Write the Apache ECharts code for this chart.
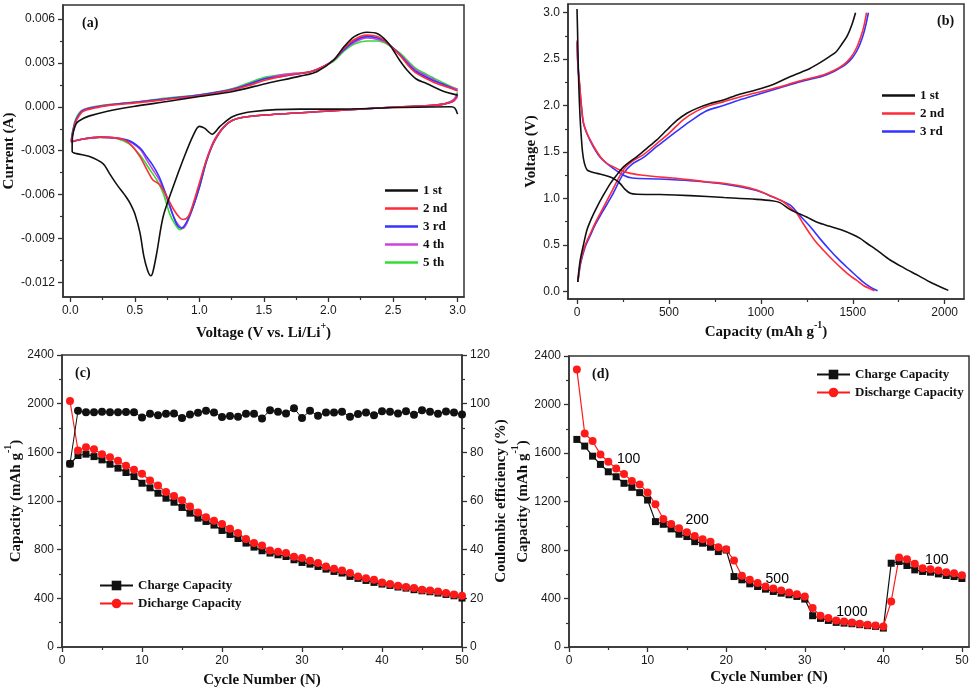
<!DOCTYPE html>
<html><head><meta charset="utf-8">
<script src="https://cdn.jsdelivr.net/npm/echarts@6/dist/echarts.min.js"></script>
<style>html,body{margin:0;padding:0;background:#fff}#c{width:974px;height:693px}</style>
</head><body><div id="c"></div>
<script>
// ---------- Panel (a): cyclic voltammetry, [voltage V, current A] ----------
const cvNames = ['1 st','2 nd','3 rd','4 th','5 th'];
const cv1 = [[3.00,-0.0005],[2.98,-0.0001],[2.95,0.0000],[2.55,-0.00005],[2.04,-0.00016],[1.78,-0.00016],[1.42,-0.00032],[1.26,-0.00066],[1.16,-0.00134],[1.10,-0.00187],[1.04,-0.00146],[1.00,-0.00134],[0.95,-0.0020],[0.875,-0.0036],[0.80,-0.0054],[0.72,-0.0075],[0.67,-0.0100],[0.64,-0.0113],[0.625,-0.01155],[0.60,-0.0112],[0.57,-0.0102],[0.54,-0.0086],[0.50,-0.0073],[0.47,-0.0067],[0.436,-0.0062],[0.36,-0.0053],[0.30,-0.0045],[0.256,-0.0039],[0.15,-0.0034],[0.05,-0.0032],[0.015,-0.00305],
  [0.015,-0.0024],[0.025,-0.0017],[0.05,-0.0011],[0.10,-0.0008],[0.15,-0.00062],[0.28,-0.00032],[0.49,0.00002],[0.75,0.00036],[1.0,0.0007],[1.26,0.00105],[1.52,0.0016],[1.78,0.0021],[1.91,0.0024],[2.04,0.0032],[2.12,0.0041],[2.20,0.0048],[2.30,0.0051],[2.38,0.0050],[2.45,0.0045],[2.50,0.0039],[2.55,0.0032],[2.61,0.0025],[2.68,0.0019],[2.76,0.0016],[2.88,0.0011],[3.0,0.0008]];
const cv2 = [[3.0,0.0007],[2.97,0.0004],[2.90,0.0002],[2.81,0.0001],[2.55,0.0000],[2.04,-0.00027],[1.52,-0.00055],[1.31,-0.00077],[1.21,-0.0012],[1.12,-0.00226],[1.056,-0.0036],[1.004,-0.0051],[0.953,-0.0066],[0.914,-0.0075],[0.875,-0.0077],[0.85,-0.0076],[0.80,-0.0070],[0.746,-0.0061],[0.69,-0.0053],[0.64,-0.0050],[0.60,-0.0044],[0.54,-0.0034],[0.47,-0.0026],[0.40,-0.0022],[0.23,-0.00207],[0.10,-0.0022],[0.01,-0.00237],
  [0.01,-0.0023],[0.02,-0.0018],[0.04,-0.0011],[0.07,-0.0006],[0.10,-0.0003],[0.18,-0.0001],[0.30,0.0001],[0.49,0.00025],[0.75,0.0005],[1.0,0.00075],[1.26,0.00115],[1.40,0.0015],[1.50,0.0018],[1.65,0.0021],[1.86,0.0024],[1.95,0.0027],[2.04,0.0032],[2.12,0.0040],[2.20,0.0046],[2.30,0.0049],[2.38,0.0048],[2.45,0.0044],[2.55,0.00355],[2.62,0.0028],[2.68,0.0023],[2.81,0.0017],[2.90,0.0014],[3.0,0.0011]];
const cv3 = [[3.0,0.0008],[2.97,0.0004],[2.90,0.0002],[2.81,0.0001],[2.55,0.0000],[2.04,-0.00027],[1.52,-0.00055],[1.31,-0.00077],[1.21,-0.0012],[1.12,-0.0023],[1.056,-0.0037],[1.004,-0.0054],[0.953,-0.0068],[0.90,-0.0079],[0.86,-0.0083],[0.83,-0.0081],[0.80,-0.0075],[0.746,-0.0061],[0.69,-0.0048],[0.64,-0.0040],[0.59,-0.0034],[0.54,-0.0028],[0.436,-0.00226],[0.23,-0.00207],[0.10,-0.0022],[0.01,-0.0024],
  [0.01,-0.0023],[0.02,-0.0017],[0.04,-0.0010],[0.07,-0.0005],[0.10,-0.00025],[0.18,-0.00005],[0.30,0.00012],[0.49,0.0003],[0.75,0.00055],[1.0,0.0008],[1.26,0.0012],[1.40,0.0016],[1.50,0.0019],[1.65,0.0021],[1.86,0.0024],[1.95,0.0027],[2.04,0.0032],[2.12,0.0039],[2.20,0.0045],[2.30,0.0048],[2.38,0.0047],[2.45,0.0044],[2.55,0.0036],[2.62,0.0029],[2.68,0.0024],[2.81,0.0018],[2.90,0.0015],[3.0,0.0011]];
const cv4 = [[3.0,0.0009],[2.97,0.0005],[2.90,0.0002],[2.81,0.0001],[2.55,0.0000],[2.04,-0.00027],[1.52,-0.00055],[1.31,-0.00077],[1.21,-0.0012],[1.12,-0.0022],[1.06,-0.0035],[1.01,-0.0051],[0.96,-0.0066],[0.91,-0.0078],[0.875,-0.0083],[0.84,-0.0081],[0.80,-0.0075],[0.746,-0.0062],[0.69,-0.0050],[0.64,-0.0043],[0.59,-0.0036],[0.54,-0.0029],[0.436,-0.0023],[0.23,-0.00207],[0.10,-0.0022],[0.01,-0.0024],
  [0.01,-0.0023],[0.02,-0.0017],[0.04,-0.0010],[0.07,-0.0005],[0.10,-0.00022],[0.18,-0.00003],[0.30,0.00013],[0.49,0.0003],[0.75,0.00055],[1.0,0.0008],[1.26,0.00122],[1.40,0.0016],[1.50,0.0019],[1.65,0.0022],[1.86,0.0024],[1.95,0.0027],[2.04,0.0032],[2.12,0.0039],[2.20,0.0044],[2.30,0.0047],[2.38,0.0046],[2.45,0.0044],[2.55,0.0036],[2.62,0.0030],[2.68,0.0025],[2.81,0.0019],[2.90,0.0015],[3.0,0.0012]];
const cv5 = [[3.0,0.0010],[2.97,0.0005],[2.90,0.0002],[2.81,0.0001],[2.55,0.0000],[2.04,-0.00027],[1.52,-0.00055],[1.31,-0.00077],[1.21,-0.0012],[1.12,-0.0023],[1.056,-0.0037],[1.004,-0.0054],[0.953,-0.0068],[0.90,-0.0080],[0.85,-0.0084],[0.81,-0.0080],[0.77,-0.0073],[0.72,-0.0059],[0.67,-0.0050],[0.617,-0.0043],[0.54,-0.0033],[0.45,-0.0025],[0.30,-0.0021],[0.10,-0.0022],[0.01,-0.0024],
  [0.01,-0.0023],[0.02,-0.0016],[0.04,-0.0009],[0.07,-0.0004],[0.10,-0.0002],[0.18,0.0000],[0.30,0.00015],[0.49,0.00032],[0.75,0.0006],[1.0,0.00082],[1.26,0.00125],[1.40,0.0017],[1.50,0.0020],[1.65,0.0022],[1.86,0.0024],[1.95,0.0027],[2.04,0.0031],[2.12,0.0038],[2.20,0.0043],[2.30,0.0045],[2.38,0.0045],[2.45,0.0043],[2.55,0.0037],[2.62,0.0031],[2.68,0.0026],[2.81,0.0020],[2.90,0.0016],[3.0,0.0012]];

// ---------- Panel (b): charge/discharge profiles, [capacity mAh/g, voltage V] ----------
const gcNames = ['1 st','2 nd','3 rd'];
const dis1 = [[0,3.04],[3,2.8],[6,2.5],[10,2.2],[16,1.9],[22,1.7],[30,1.5],[40,1.38],[54,1.31],[80,1.285],[109,1.27],[150,1.25],[181,1.23],[210,1.20],[235,1.16],[260,1.10],[290,1.055],[326,1.045],[450,1.042],[615,1.03],[800,1.01],[977,0.99],[1060,0.975],[1104,0.955],[1160,0.88],[1249,0.80],[1310,0.74],[1375,0.70],[1440,0.66],[1502,0.61],[1540,0.57],[1575,0.52],[1640,0.43],[1701,0.34],[1780,0.25],[1846,0.18],[1930,0.09],[2020,0.01]];
const chg1 = [[4,0.10],[10,0.22],[18,0.34],[35,0.5],[54,0.66],[80,0.79],[109,0.91],[145,1.04],[181,1.16],[215,1.25],[253,1.34],[290,1.40],[326,1.45],[380,1.54],[434,1.63],[490,1.74],[543,1.84],[600,1.92],[652,1.97],[720,2.02],[796,2.06],[880,2.12],[977,2.17],[1070,2.23],[1158,2.31],[1220,2.36],[1267,2.40],[1320,2.46],[1375,2.53],[1410,2.58],[1440,2.66],[1470,2.75],[1495,2.87],[1515,3.0]];
const dis2 = [[0,2.7],[5,2.45],[14,2.24],[24,2.0],[36,1.81],[55,1.70],[72,1.63],[100,1.53],[127,1.45],[160,1.38],[199,1.34],[240,1.30],[290,1.27],[360,1.25],[434,1.234],[520,1.22],[615,1.20],[700,1.18],[796,1.163],[900,1.13],[977,1.09],[1050,1.03],[1122,0.965],[1160,0.90],[1195,0.84],[1230,0.73],[1267,0.62],[1300,0.53],[1339,0.445],[1390,0.34],[1448,0.23],[1490,0.16],[1520,0.12],[1560,0.06],[1602,0.02],[1618,0.005]];
const chg2 = [[5,0.1],[12,0.22],[22,0.34],[45,0.5],[72,0.62],[100,0.74],[140,0.89],[190,1.08],[253,1.31],[300,1.40],[360,1.47],[434,1.59],[500,1.70],[579,1.85],[650,1.94],[720,2.0],[796,2.04],[900,2.10],[1000,2.15],[1100,2.20],[1200,2.26],[1280,2.30],[1339,2.33],[1400,2.38],[1450,2.44],[1490,2.52],[1520,2.62],[1545,2.75],[1560,2.85],[1575,3.0]];
const dis3 = [[0,2.68],[5,2.42],[14,2.22],[24,1.99],[36,1.80],[72,1.62],[127,1.44],[199,1.32],[253,1.25],[300,1.22],[434,1.21],[615,1.19],[796,1.155],[977,1.085],[1060,1.02],[1158,0.93],[1210,0.82],[1267,0.70],[1320,0.57],[1375,0.445],[1430,0.33],[1484,0.23],[1520,0.165],[1557,0.10],[1600,0.04],[1635,0.005]];
const chg3 = [[5,0.1],[12,0.21],[22,0.32],[45,0.48],[72,0.60],[100,0.72],[140,0.86],[190,1.03],[253,1.27],[300,1.37],[360,1.44],[434,1.56],[500,1.66],[560,1.75],[615,1.83],[700,1.94],[796,2.0],[900,2.07],[1000,2.13],[1100,2.19],[1200,2.25],[1280,2.29],[1339,2.32],[1400,2.37],[1460,2.44],[1500,2.52],[1530,2.62],[1555,2.75],[1570,2.86],[1585,3.0]];

// ---------- Panel (c): cycling at 100 mA/g ----------
const cycles = [1,2,3,4,5,6,7,8,9,10,11,12,13,14,15,16,17,18,19,20,21,22,23,24,25,26,27,28,29,30,31,32,33,34,35,36,37,38,39,40,41,42,43,44,45,46,47,48,49,50];
const cCharge = [1505,1574,1585,1565,1538,1502,1470,1434,1401,1346,1308,1264,1223,1190,1147,1100,1059,1032,1002,958,925,892,854,821,791,772,758,744,717,695,681,662,640,621,608,580,564,547,531,517,506,493,484,471,462,454,443,432,421,402];
const cDischarge = [2022,1615,1642,1625,1585,1560,1530,1489,1456,1423,1368,1327,1273,1242,1207,1155,1106,1067,1037,1010,971,936,887,854,835,794,783,772,742,731,709,690,662,643,629,608,580,566,553,531,517,504,493,484,471,465,457,443,432,421];
const cEfficiency = [75.3,97.1,96.5,96.5,96.7,96.5,96.5,96.6,96.5,94.3,95.9,95.2,95.9,96.0,94.1,95.5,96.3,97.1,96.4,94.5,94.9,94.6,95.9,95.9,93.9,97.3,96.7,96.0,98.1,94.1,97.1,95.0,96.4,96.4,96.7,94.6,95.8,96.4,95.2,96.9,96.7,96.0,96.9,95.4,97.3,96.7,95.9,96.8,96.4,95.5];

// ---------- Panel (d): rate performance ----------
const dCharge = [1712,1657,1574,1506,1445,1404,1350,1317,1273,1212,1034,1012,974,930,911,869,856,823,787,800,581,554,521,499,477,458,444,431,417,395,258,236,219,203,197,192,184,176,170,156,691,705,672,636,623,617,603,590,581,565];
const dDischarge = [2288,1761,1698,1588,1528,1473,1426,1369,1341,1275,1177,1056,1015,979,946,916,889,869,823,806,713,587,554,527,499,483,466,450,436,417,321,258,239,219,211,203,192,184,178,170,376,738,724,686,650,642,631,617,609,592];
const rateText = ['100','200','500','1000','100'];
const rateCycle = [7.6,16.3,26.5,36,46.8];
const rateCap = [1550,1048,562,285,713];

// ---------- Tick values ----------
const aXTicks=[0,0.5,1,1.5,2,2.5,3], aXMinor=[0.25,0.75,1.25,1.75,2.25,2.75];
const aYTicks=[-0.012,-0.009,-0.006,-0.003,0,0.003,0.006], aYMinor=[-0.0105,-0.0075,-0.0045,-0.0015,0.0015,0.0045];
const bXTicks=[0,500,1000,1500,2000], bXMinor=[250,750,1250,1750];
const bYTicks=[0,0.5,1,1.5,2,2.5,3], bYMinor=[0.25,0.75,1.25,1.75,2.25,2.75];
const cycTicks=[0,10,20,30,40,50], cycMinor=[5,15,25,35,45];
const capTicks=[0,400,800,1200,1600,2000,2400], capMinor=[200,600,1000,1400,1800,2200];
const ceTicks=[0,20,40,60,80,100,120], ceMinor=[10,30,50,70,90,110];

const SANS='Liberation Sans', SERIF='Liberation Serif';
const INK='#1a1a1a';
const cvColors=['#111111','#ff2a3a','#3434ff','#cc44dd','#33dd33'];

const xAxes=[], yAxes=[];
function addAxis(list,o){
  list.push({
    type:'value', gridIndex:o.grid, position:o.pos, min:o.min, max:o.max,
    splitLine:{show:false},
    axisLine:{show:true,onZero:false,lineStyle:{color:'#333',width:1.5}},
    axisTick:{show:true,inside:false,length:5,customValues:o.major,lineStyle:{color:'#333',width:1.3}},
    axisLabel:{show:true,customValues:o.major,formatter:o.fmt,margin:o.margin||8,color:INK,fontFamily:SANS,fontSize:12},
    name:o.name,nameLocation:'middle',nameGap:o.gap,nameRotate:o.rot,
    nameTextStyle:{fontFamily:SERIF,fontWeight:'bold',fontSize:15,color:'#111',
      rich:{
        n:{fontFamily:SERIF,fontWeight:'bold',fontSize:15,color:'#111',lineHeight:20,verticalAlign:'bottom'},
        sup:{fontFamily:SERIF,fontWeight:'bold',fontSize:10,color:'#111',lineHeight:11,verticalAlign:'top'}
      }}
  });
  const idx=list.length-1;
  list.push({
    type:'value', gridIndex:o.grid, position:o.pos, min:o.min, max:o.max,
    splitLine:{show:false}, axisLine:{show:false,onZero:false},
    axisTick:{show:true,inside:false,length:3,customValues:o.minor,lineStyle:{color:'#333',width:1.2}},
    axisLabel:{show:false}
  });
  return idx;
}
const f1=v=>v.toFixed(1), f3=v=>v.toFixed(3), f0=v=>String(v);

const ax_a = addAxis(xAxes,{grid:0,pos:'bottom',min:-0.056,max:3.05,major:aXTicks,minor:aXMinor,fmt:f1,name:'{n|Voltage (V vs. Li/Li}{sup|+}{n|)}',gap:24});
const ay_a = addAxis(yAxes,{grid:0,pos:'left',min:-0.0130,max:0.00696,major:aYTicks,minor:aYMinor,fmt:f3,name:'Current (A)',gap:45,rot:90});
const ax_b = addAxis(xAxes,{grid:1,pos:'bottom',min:-49,max:2105,major:bXTicks,minor:bXMinor,fmt:f0,name:'{n|Capacity (mAh g}{sup|-1}{n|)}',gap:21});
const ay_b = addAxis(yAxes,{grid:1,pos:'left',min:-0.083,max:3.094,major:bYTicks,minor:bYMinor,fmt:f1,name:'Voltage (V)',gap:29,rot:90});
const ax_c = addAxis(xAxes,{grid:2,pos:'bottom',min:0,max:50,major:cycTicks,minor:cycMinor,fmt:f0,name:'Cycle Number (N)',gap:26});
const ay_c = addAxis(yAxes,{grid:2,pos:'left',min:0,max:2400,major:capTicks,minor:capMinor,fmt:f0,name:'{n|Capacity (mAh g}{sup|-1}{n|)}',gap:38,rot:90});
const ay_c2 = addAxis(yAxes,{grid:2,pos:'right',min:0,max:120,major:ceTicks,minor:ceMinor,fmt:f0,name:'Coulombic efficiency (%)',gap:13,rot:90});
const ax_d = addAxis(xAxes,{grid:3,pos:'bottom',min:0,max:50.9,major:cycTicks,minor:cycMinor,fmt:f0,name:'Cycle Number (N)',gap:23});
const ay_d = addAxis(yAxes,{grid:3,pos:'left',min:0,max:2400,major:capTicks,minor:capMinor,fmt:f0,name:'{n|Capacity (mAh g}{sup|-1}{n|)}',gap:38,rot:90});

const grids=[
  {left:63,top:5,width:401,height:292},
  {left:568,top:4,width:396,height:295},
  {left:62,top:355,width:400,height:292},
  {left:569,top:356,width:400,height:291}
].map(g=>Object.assign({show:true,borderColor:'#333',borderWidth:1.5,backgroundColor:'transparent'},g));

const series=[];
[cv1,cv2,cv3,cv4,cv5].forEach((d,i)=>series.push({
  name:cvNames[i],type:'line',xAxisIndex:ax_a,yAxisIndex:ay_a,data:d,symbol:'none',smooth:0.3,
  lineStyle:{width:1.6,color:cvColors[i]},itemStyle:{color:cvColors[i]},z:10-i
}));
[[dis1,chg1],[dis2,chg2],[dis3,chg3]].forEach((pair,i)=>pair.forEach(d=>series.push({
  name:gcNames[i],type:'line',xAxisIndex:ax_b,yAxisIndex:ay_b,data:d,symbol:'none',smooth:0.3,
  lineStyle:{width:1.6,color:cvColors[i]},itemStyle:{color:cvColors[i]},z:10-i
})));
const pairs=(xs,ys)=>xs.map((x,i)=>[x,ys[i]]);
const mk=(name,xi,yi,data,sym,color,size,lw)=>({name,type:'line',xAxisIndex:xi,yAxisIndex:yi,data,symbol:sym,symbolSize:size,showSymbol:true,
  lineStyle:{width:lw,color},itemStyle:{color}});
series.push(mk('Charge Capacity',ax_c,ay_c,pairs(cycles,cCharge),'rect','#111',7,1.2));
series.push(mk('Dicharge Capacity',ax_c,ay_c,pairs(cycles,cDischarge),'circle','#ff1a1a',8,1.2));
series.push(mk('Coulombic efficiency',ax_c,ay_c2,pairs(cycles,cEfficiency),'circle','#111',8,1));
series.push(mk('Charge Capacity',ax_d,ay_d,pairs(cycles,dCharge),'rect','#111',7,1.2));
series.push(mk('Discharge Capacity',ax_d,ay_d,pairs(cycles,dDischarge),'circle','#ff1a1a',8,1.2));
series.push({type:'scatter',xAxisIndex:ax_d,yAxisIndex:ay_d,symbolSize:0,itemStyle:{color:'#111',opacity:1},silent:true,
  data:rateText.map((t,i)=>({name:t,value:[rateCycle[i],rateCap[i]]})),
  label:{show:true,position:'inside',formatter:p=>p.name,fontFamily:SANS,fontSize:14,color:'#000',opacity:1},z:20});

const legText={fontFamily:SERIF,fontWeight:'bold',fontSize:13,color:'#111'};
const legLine={orient:'vertical',icon:'rect',itemWidth:33,itemHeight:2.5,itemGap:5,textStyle:legText,selectedMode:false};
const legSym={orient:'vertical',itemWidth:33,itemHeight:12,itemGap:5,textStyle:legText,selectedMode:false};
const legends=[
  Object.assign({data:cvNames,left:380,top:179},legLine),
  Object.assign({data:gcNames,left:877,top:84},legLine),
  Object.assign({data:['Charge Capacity','Dicharge Capacity'],left:94,top:574},legSym),
  Object.assign({data:['Charge Capacity','Discharge Capacity'],left:811,top:363},legSym)
];

const lab=(t,x,y)=>({type:'text',left:x,top:y,style:{text:t,font:'bold 14px "Liberation Serif"',fill:'#111'}});

const chart=echarts.init(document.getElementById('c'),null,{renderer:'canvas'});
chart.setOption({
  animation:false,backgroundColor:'#fff',
  grid:grids,xAxis:xAxes,yAxis:yAxes,series:series,legend:legends,
  graphic:[lab('(a)',82,16),lab('(b)',937,14),lab('(c)',75,366),lab('(d)',592,367)]
});
</script></body></html>
